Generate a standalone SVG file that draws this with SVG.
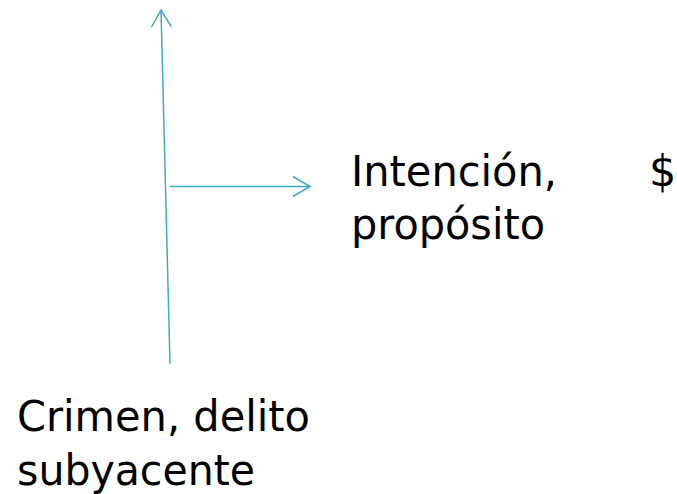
<svg xmlns="http://www.w3.org/2000/svg" width="677" height="494" viewBox="0 0 677 494">
<style>
.lbl{font-family:"DejaVu Sans","Noto Sans",sans-serif;font-size:43px;fill:#000}
.con{stroke:#3fa9c9;stroke-width:1.5;fill:none}
</style>
<defs>
<marker id="arr" markerUnits="userSpaceOnUse" markerWidth="24" markerHeight="24" viewBox="-20 -12 24 24" refX="0" refY="0" orient="auto">
<path d="M-17,-10 L0,0 L-17,10" fill="none" stroke="#3fa9c9" stroke-width="1.5"/>
</marker>
</defs>
<rect width="677" height="494" fill="#fff"/>
<g id="connectors">
<line class="con" x1="170" y1="364" x2="161" y2="10" marker-end="url(#arr)"/>
<line class="con" x1="170" y1="186.5" x2="310" y2="186.5" marker-end="url(#arr)"/>
</g>
<g id="node-intencion">
<text class="lbl" x="351" y="186" textLength="206" lengthAdjust="spacingAndGlyphs">Intención,</text>
<text class="lbl" x="351" y="239" textLength="194" lengthAdjust="spacingAndGlyphs">propósito</text>
</g>
<g id="node-dollar">
<text class="lbl" x="649" y="186" font-size="41">$</text>
</g>
<g id="node-crimen">
<text class="lbl" x="17" y="431" textLength="293" lengthAdjust="spacingAndGlyphs">Crimen, delito</text>
<text class="lbl" x="17" y="485" textLength="238" lengthAdjust="spacingAndGlyphs">subyacente</text>
</g>
</svg>
